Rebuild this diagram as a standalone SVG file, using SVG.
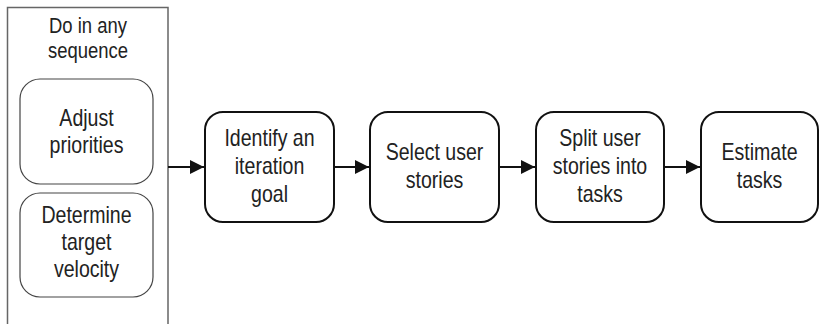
<svg xmlns="http://www.w3.org/2000/svg" width="820" height="324" viewBox="0 0 820 324">
<defs>
<style>
text{font-family:"Liberation Sans",Arial,sans-serif;fill:#222;text-anchor:middle}
.t{font-size:23px}
.h{font-size:22px}
.box{fill:#fff;stroke:#111;stroke-width:2}
.ibox{fill:#fff;stroke:#444;stroke-width:1.2}
.cont{fill:none;stroke:#666;stroke-width:1.5}
.conn{stroke:#111;stroke-width:2;fill:none}
</style>
<marker id="ah" viewBox="0 0 10 10" refX="10" refY="5" markerWidth="7" markerHeight="8" markerUnits="strokeWidth" orient="auto">
<path d="M0,0 L10,5 L0,10 z" fill="#111"/>
</marker>
</defs>
<rect width="820" height="324" fill="#fff"/>
<g id="container">
<path class="cont" d="M7.5,324 V7.5 H168 V324"/>
<g transform="translate(88 0) scale(.84 1)">
<text class="h" x="0" y="33">Do in any</text>
<text class="h" x="0" y="58">sequence</text>
</g>
</g>
<g id="adjust">
<rect class="ibox" x="20" y="79" width="133" height="105" rx="20"/>
<g transform="translate(86.5 0) scale(.85 1)">
<text class="t" x="0" y="126.5">Adjust</text>
<text class="t" x="0" y="153">priorities</text>
</g>
</g>
<g id="determine">
<rect class="ibox" x="20" y="193" width="133" height="104" rx="20"/>
<g transform="translate(86.5 0) scale(.85 1)">
<text class="t" x="0" y="223.5">Determine</text>
<text class="t" x="0" y="250">target</text>
<text class="t" x="0" y="277">velocity</text>
</g>
</g>
<g id="connectors">
<line class="conn" x1="168" y1="167" x2="204" y2="167" marker-end="url(#ah)"/>
<line class="conn" x1="334" y1="167" x2="369" y2="167" marker-end="url(#ah)"/>
<line class="conn" x1="499" y1="167" x2="535" y2="167" marker-end="url(#ah)"/>
<line class="conn" x1="664" y1="167" x2="700" y2="167" marker-end="url(#ah)"/>
</g>
<g id="identify">
<rect class="box" x="205" y="112" width="129" height="110" rx="18"/>
<g transform="translate(269.5 0) scale(.85 1)">
<text class="t" x="0" y="146">Identify an</text>
<text class="t" x="0" y="174">iteration</text>
<text class="t" x="0" y="202">goal</text>
</g>
</g>
<g id="select">
<rect class="box" x="370" y="112" width="129" height="110" rx="18"/>
<g transform="translate(434.5 0) scale(.85 1)">
<text class="t" x="0" y="160">Select user</text>
<text class="t" x="0" y="188.5">stories</text>
</g>
</g>
<g id="split">
<rect class="box" x="536" y="112" width="128" height="110" rx="18"/>
<g transform="translate(600 0) scale(.85 1)">
<text class="t" x="0" y="146">Split user</text>
<text class="t" x="0" y="174">stories into</text>
<text class="t" x="0" y="202">tasks</text>
</g>
</g>
<g id="estimate">
<rect class="box" x="701" y="112" width="117" height="110" rx="18"/>
<g transform="translate(759.5 0) scale(.85 1)">
<text class="t" x="0" y="160">Estimate</text>
<text class="t" x="0" y="188.5">tasks</text>
</g>
</g>
</svg>
